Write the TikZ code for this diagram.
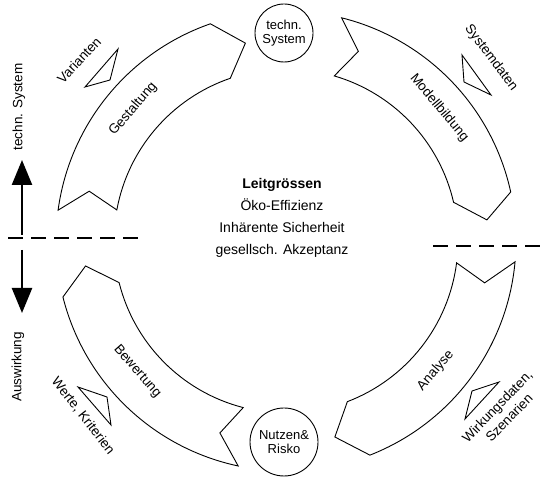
\documentclass[tikz,border=0pt]{standalone}
\usepackage{fontspec}
\setmainfont{Liberation Sans}
\usetikzlibrary{arrows.meta}

% one curved band of the cycle: tail outer/inner angle, tail notch angle,
% head outer/inner angle, head tip angle (ring centre is the origin)
\newcommand{\ringband}[6]{%
  \draw[band] (#1:230pt) arc[start angle=#1, end angle=#4, radius=230pt]
    -- (#6:202pt) -- (#5:172pt) arc[start angle=#5, end angle=#2, radius=172pt]
    -- (#3:203pt) -- cycle;}

\begin{document}
\begin{tikzpicture}[x=1pt,y=1pt,
  band/.style={draw=black, line width=0.9pt, line join=miter},
  wedge/.style={draw=black, line width=0.9pt, line join=miter},
  tag/.style={font=\fontsize{13.5}{15}\selectfont, inner sep=0pt, align=center},
  hub/.style={draw=black, circle, line width=0.9pt, inner sep=0pt, align=center,
              font=\fontsize{13}{13.5}\selectfont},
  divider/.style={line width=1.5pt, dash pattern=on 15pt off 8pt},
  flow/.style={line width=2.4pt, -{Triangle[width=20pt,length=25pt]}}
]
\useasboundingbox (0,0) rectangle (547,500);

% the four process bands around the centre
\begin{scope}[shift={(286,259)}]
  \ringband{172.3}{169.6}{165.8}{109.2}{108.9}{101.6}
  \ringband{76.0}{73.7}{69.1}{12.3}{13.0}{6.0}
  \ringband{-5.2}{-7.3}{-11.9}{-68.6}{-69.1}{-76.0}
  \ringband{258.0}{255.6}{251.0}{194.1}{194.0}{187.1}
  \node[tag, rotate=49.2]  (design)   at (139.2:202pt) {Gestaltung};
  \node[tag, rotate=-50]   (model)    at (41.0:203pt)  {Modellbildung};
  \node[tag, rotate=49.1]  (analysis) at (-40.9:198pt) {Analyse};
  \node[tag, rotate=-48.7] (rating)   at (221.3:198pt) {Bewertung};
\end{scope}

% the two hubs
\node[hub, minimum size=58pt] (sys)     at (284,467) {techn.\\System};
\node[hub, minimum size=68pt] (benefit) at (284,58)  {Nutzen\&\\Risko};

% guiding quantities in the middle
\node[align=center, font=\fontsize{14}{22}\selectfont] (lead) at (282,282)
  {\textbf{Leitgrössen}\\Öko-Effizienz\\Inhärente Sicherheit\\gesellsch. Akzeptanz};

% inputs beside the bands
\node[tag, rotate=47]  (variants) at (79,440) {Varianten};
\draw[wedge] (118,451) -- (85,413) -- (110,420) -- cycle;

\node[tag, rotate=-53] (sysdata)  at (491,442) {Systemdaten};
\draw[wedge] (462,445) -- (464,418) -- (491,405) -- cycle;

\node[tag, rotate=46, font=\fontsize{13.5}{16.5}\selectfont] (effects) at (503,88)
  {Wirkungsdaten,\\Szenarien};
\draw[wedge] (472,109) -- (499,118) -- (465,81) -- cycle;

\node[tag, rotate=-52] (values)   at (83,84) {Werte, Kriterien};
\draw[wedge] (78,113) -- (107,103) -- (111,75) -- cycle;

% dividing lines
\coordinate (divLa) at (8,262);
\coordinate (divLb) at (143,262);
\coordinate (divRa) at (433,254);
\coordinate (divRb) at (547,254);
\draw[divider] (divLa) -- (divLb);
\draw[divider] (divRa) -- (divRb);

% direction arrows on the left
\node[tag, rotate=90] (upLbl)   at (19,393) {techn. System};
\node[tag, rotate=90] (downLbl) at (18,133) {Auswirkung};
\coordinate (upFoot)   at (22,265);
\coordinate (upTip)    at (22,340);
\coordinate (downFoot) at (22,250);
\coordinate (downTip)  at (22,187);
\draw[flow] (upFoot) -- (upTip);
\draw[flow] (downFoot) -- (downTip);
\end{tikzpicture}
\end{document}
